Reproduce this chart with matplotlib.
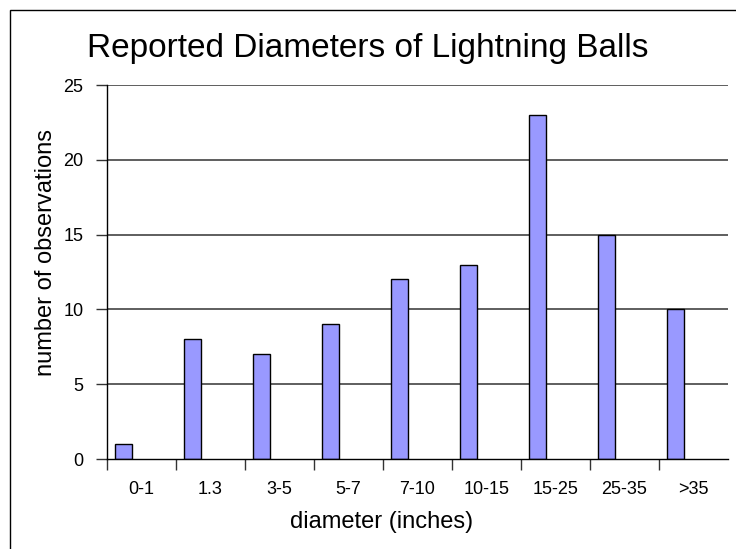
import matplotlib
matplotlib.use("Agg")
import matplotlib.pyplot as plt
from matplotlib.patches import Rectangle
import numpy as np

categories = ["0-1", "1.3", "3-5", "5-7", "7-10", "10-15", "15-25", "25-35", ">35"]
observations = [1, 8, 7, 9, 12, 13, 23, 15, 10]
yticks = [0, 5, 10, 15, 20, 25]

plt.rcParams['font.family'] = ['Liberation Sans', 'DejaVu Sans']

W, H = 736, 549
fig = plt.figure(figsize=(W / 100, H / 100), dpi=100)
fig.patch.set_facecolor('white')

# outer chart border (cropped on right and bottom)
fig.patches.append(Rectangle((10 / W, -0.2), 2.0, 1 - 10 / H + 0.2, fill=False,
                             edgecolor='black', linewidth=1.0,
                             transform=fig.transFigure, figure=fig))

left, right, top, bottom = 107, 728, 85, 459
ax = fig.add_axes([left / W, 1 - bottom / H, (right - left) / W, (bottom - top) / H])

x = np.arange(len(categories))
ax.bar(x - 0.26, observations, width=0.246, color='#9999FF', edgecolor='black',
       linewidth=1.0, zorder=3)

ax.set_xlim(-0.5, len(categories) - 0.5)
ax.set_ylim(0, 25)
ax.set_yticks(yticks)
ax.set_yticklabels([str(v) for v in yticks], fontsize=13)
ax.set_xticks(x)
ax.set_xticklabels(categories, fontsize=13)
ax.set_xticks(np.arange(len(categories)) - 0.5, minor=True)
ax.tick_params(axis='x', which='major', length=0, pad=16)
ax.tick_params(axis='x', which='minor', length=8, width=1.0, color='#333333')
ax.tick_params(axis='y', which='major', length=8, width=1.0, pad=9, color='#333333')

for v in yticks[1:]:
    ax.axhline(v, color='#333333', linewidth=1.1, zorder=1)

for s in ['top', 'right']:
    ax.spines[s].set_visible(False)
ax.spines['left'].set_linewidth(1.0)
ax.spines['bottom'].set_linewidth(1.0)
ax.spines['left'].set_zorder(4)
ax.spines['bottom'].set_zorder(4)

fig.text(368 / W, 1 - 57 / H, "Reported Diameters of Lightning Balls", fontsize=24,
         ha='center', va='baseline')
fig.text(382 / W, 1 - 528 / H, "diameter (inches)", fontsize=17, ha='center', va='baseline')
fig.text(46 / W, 1 - 252 / H, "number of observations", fontsize=17, ha='center',
         va='center', rotation=90)

fig.savefig("out.png", dpi=100)
